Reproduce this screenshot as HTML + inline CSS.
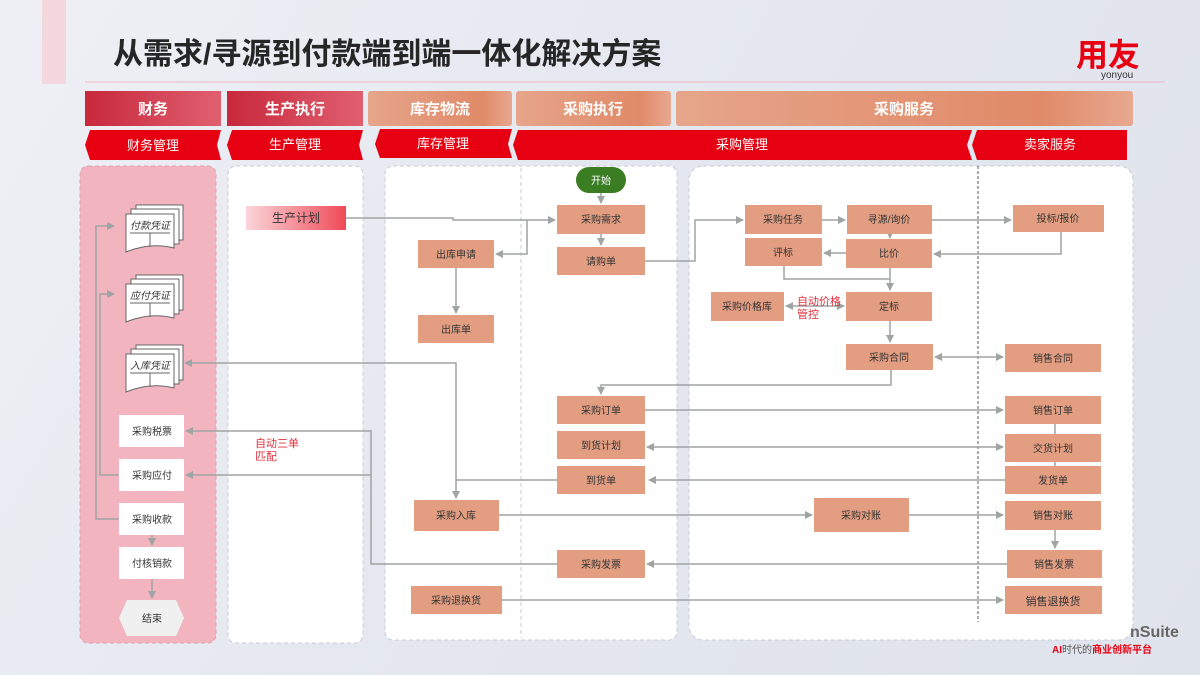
<!DOCTYPE html>
<html><head><meta charset="utf-8"><style>
body{margin:0;width:1200px;height:675px;overflow:hidden;background:linear-gradient(120deg,#eef0f5 0%,#e4e7ef 50%,#dfe3ec 100%);font-family:"Liberation Sans","Noto Sans CJK SC",sans-serif;}
svg{position:absolute;left:0;top:0}
text{font-family:"Liberation Sans","Noto Sans CJK SC",sans-serif}
</style></head><body>
<svg width="1200" height="675" viewBox="0 0 1200 675">
<defs>
<marker id="a" markerWidth="8" markerHeight="8" refX="7" refY="4" orient="auto" markerUnits="userSpaceOnUse"><path d="M0,0 L8,4 L0,8z" fill="#a0a4a4"/></marker>
<marker id="s" markerWidth="8" markerHeight="8" refX="1" refY="4" orient="auto" markerUnits="userSpaceOnUse"><path d="M8,0 L0,4 L8,8z" fill="#a0a4a4"/></marker>
<linearGradient id="rd" x1="0" x2="1"><stop offset="0" stop-color="#c8283c"/><stop offset="1" stop-color="#e06070"/></linearGradient>
<linearGradient id="or" x1="0" x2="1"><stop offset="0" stop-color="#e6a58a"/><stop offset="0.8" stop-color="#e08a68"/><stop offset="1" stop-color="#e8a890"/></linearGradient>
<linearGradient id="pp" x1="0" x2="1"><stop offset="0" stop-color="#fbd6da"/><stop offset="1" stop-color="#ef4a58"/></linearGradient>
</defs>
<rect x="42" y="0" width="24" height="84" fill="#f3d9de"/>
<text x="113" y="64" font-size="30" font-weight="bold" fill="#262626">从需求/寻源到付款端到端一体化解决方案</text>
<line x1="85" y1="82" x2="1165" y2="82" stroke="#efb8c0" stroke-width="1"/>
<text x="1076" y="66" font-size="32" font-weight="bold" fill="#e60012">用友</text>
<text x="1101" y="78" font-size="10" fill="#333">yonyou</text>

<rect x="85" y="91" width="136" height="35" fill="url(#rd)"/>
<rect x="227" y="91" width="136" height="35" fill="url(#rd)"/>
<rect x="368" y="91" width="144" height="35" rx="3" fill="url(#or)"/>
<rect x="516" y="91" width="155" height="35" rx="3" fill="url(#or)"/>
<rect x="676" y="91" width="457" height="35" rx="3" fill="url(#or)"/>
<g font-size="15" font-weight="bold" fill="#fff" text-anchor="middle">
<text x="153" y="114">财务</text><text x="295" y="114">生产执行</text><text x="440" y="114">库存物流</text><text x="593" y="114">采购执行</text><text x="904" y="114">采购服务</text></g>
<g fill="#e60012">
<path d="M90,130 H221 L217,145 L221,160 H90 L85,145z"/>
<path d="M232,130 H363 L359,145 L363,160 H232 L227,145z"/>
<path d="M380,129 H512 L508,144 L512,158 H380 L375,144z"/>
<path d="M518,130 H972 L967,145 L972,160 H518 L513,145z"/>
<path d="M977,130 H1127 V160 H977 L972,145z"/>
</g>
<g font-size="13" fill="#fff" text-anchor="middle">
<text x="153" y="150">财务管理</text><text x="295" y="149">生产管理</text><text x="443" y="148">库存管理</text><text x="742" y="149">采购管理</text><text x="1050" y="149">卖家服务</text></g>

<rect x="80" y="166" width="136" height="477" rx="8" fill="#f2b5bf" stroke="#e8a0ac" stroke-dasharray="4 3"/>
<rect x="228" y="166" width="135" height="477" rx="8" fill="#fff" stroke="#c8ccd4" stroke-dasharray="4 3"/>
<rect x="385" y="166" width="292" height="474" rx="8" fill="#fff" stroke="#c8ccd4" stroke-dasharray="4 3"/>
<line x1="521" y1="168" x2="521" y2="638" stroke="#c8ccd4" stroke-dasharray="4 3"/>
<rect x="689" y="166" width="444" height="474" rx="14" fill="#fff" stroke="#c8ccd4" stroke-dasharray="4 3"/>
<line x1="978" y1="166" x2="978" y2="622" stroke="#333" stroke-dasharray="3 2" stroke-width="0.8"/>

<g stroke="#a0a4a4" stroke-width="1.5" fill="none">
<path d="M346,218 H453 V220 H555" marker-end="url(#a)"/>
<path d="M527,220 V254 H496" marker-end="url(#a)"/>
<path d="M601,193 V203" marker-end="url(#a)"/>
<path d="M601,234 V245" marker-end="url(#a)"/>
<path d="M456,268 V313" marker-end="url(#a)"/>
<path d="M645,261 H695 V220 H743" marker-end="url(#a)"/>
<path d="M822,220 H845" marker-end="url(#a)"/>
<path d="M932,220 H1011" marker-end="url(#a)"/>
<path d="M890,234 V238" marker-end="url(#a)"/>
<path d="M1061,232 V254 H934" marker-end="url(#a)"/>
<path d="M846,253 H824" marker-end="url(#a)"/>
<path d="M784,266 V279 H890"/>
<path d="M890,268 V290" marker-end="url(#a)"/>
<path d="M786,306 H844" marker-start="url(#s)" marker-end="url(#a)"/>
<path d="M890,321 V342" marker-end="url(#a)"/>
<path d="M935,357 H1003" marker-start="url(#s)" marker-end="url(#a)"/>
<path d="M891,370 V385 H601 V394" marker-end="url(#a)"/>
<path d="M645,410 H1003" marker-end="url(#a)"/>
<path d="M647,447 H1003" marker-start="url(#s)" marker-end="url(#a)"/>
<path d="M1005,480 H649" marker-end="url(#a)"/>
<path d="M1055,424 V434"/>
<path d="M1055,462 V466"/>
<path d="M557,480 H456"/>
<path d="M185,363 H456 V498" marker-start="url(#s)" marker-end="url(#a)"/>
<path d="M499,515 H812" marker-end="url(#a)"/>
<path d="M909,515 H1003" marker-end="url(#a)"/>
<path d="M1055,530 V548" marker-end="url(#a)"/>
<path d="M1007,564 H647" marker-end="url(#a)"/>
<path d="M557,564 H371 V431 H186" marker-end="url(#a)"/>
<path d="M371,475 H186" marker-end="url(#a)"/>
<path d="M502,600 H1003" marker-end="url(#a)"/>
<path d="M119,519 H96 V226 H114" marker-end="url(#a)"/>
<path d="M119,475 H100 V294 H114" marker-end="url(#a)"/>
<path d="M152,535 V545" marker-end="url(#a)"/>
<path d="M152,579 V598" marker-end="url(#a)"/>
</g>

<rect x="576" y="167" width="50" height="26" rx="13" fill="#3a7d22"/>
<text x="601" y="184" font-size="10" fill="#fff" text-anchor="middle">开始</text>
<rect x="246" y="206" width="100" height="24" fill="url(#pp)"/>
<text x="296" y="222" font-size="12" fill="#333" text-anchor="middle">生产计划</text>
<g fill="#e39e82">
<rect x="557" y="205" width="88" height="29"/><rect x="557" y="247" width="88" height="28"/>
<rect x="418" y="240" width="76" height="28"/><rect x="418" y="315" width="76" height="28"/>
<rect x="745" y="205" width="77" height="29"/><rect x="847" y="205" width="85" height="29"/>
<rect x="1013" y="205" width="91" height="27"/><rect x="745" y="238" width="77" height="28"/>
<rect x="846" y="239" width="86" height="29"/><rect x="711" y="292" width="73" height="29"/>
<rect x="846" y="292" width="86" height="29"/><rect x="846" y="344" width="87" height="26"/>
<rect x="1005" y="344" width="96" height="28"/>
<rect x="557" y="396" width="88" height="28"/><rect x="557" y="431" width="88" height="28"/><rect x="557" y="466" width="88" height="28"/>
<rect x="1005" y="396" width="96" height="28"/><rect x="1005" y="434" width="96" height="28"/><rect x="1005" y="466" width="96" height="28"/>
<rect x="414" y="500" width="85" height="31"/><rect x="814" y="498" width="95" height="34"/><rect x="1005" y="501" width="96" height="29"/>
<rect x="557" y="550" width="88" height="28"/><rect x="1007" y="550" width="95" height="28"/>
<rect x="411" y="586" width="91" height="28"/><rect x="1005" y="586" width="97" height="28"/>
</g>
<g font-size="10" fill="#333" text-anchor="middle">
<text x="601" y="223">采购需求</text><text x="601" y="265">请购单</text>
<text x="456" y="258">出库申请</text><text x="456" y="333">出库单</text>
<text x="783" y="223">采购任务</text><text x="889" y="223">寻源/询价</text><text x="1058" y="222">投标/报价</text>
<text x="783" y="256">评标</text><text x="889" y="257">比价</text><text x="747" y="310">采购价格库</text>
<text x="889" y="310">定标</text><text x="889" y="361">采购合同</text><text x="1053" y="362">销售合同</text>
<text x="601" y="414">采购订单</text><text x="601" y="449">到货计划</text><text x="601" y="484">到货单</text>
<text x="1053" y="414">销售订单</text><text x="1053" y="452">交货计划</text><text x="1053" y="484">发货单</text>
<text x="456" y="519">采购入库</text><text x="861" y="519">采购对账</text><text x="1053" y="519">销售对账</text>
<text x="601" y="568">采购发票</text><text x="1054" y="568">销售发票</text>
<text x="456" y="604">采购退换货</text><text x="1053" y="605" font-size="11">销售退换货</text>
</g>
<g font-size="11" fill="#e0303c">
<text x="797" y="305">自动价格</text><text x="797" y="318">管控</text>
<text x="255" y="447">自动三单</text><text x="255" y="460">匹配</text>
</g>

<g stroke="#666" stroke-width="1" fill="#fff">
<g><path d="M136,205 H183 V240 H136z"/><path d="M131,209 H179 V244 H131z"/><path d="M126,214 H174 V248 Q150,242 126,252z"/>
<line x1="130" y1="233" x2="170" y2="233"/><line x1="150" y1="233" x2="150" y2="247"/></g>
<g transform="translate(0,70)"><path d="M136,205 H183 V240 H136z"/><path d="M131,209 H179 V244 H131z"/><path d="M126,214 H174 V248 Q150,242 126,252z"/>
<line x1="130" y1="233" x2="170" y2="233"/><line x1="150" y1="233" x2="150" y2="247"/></g>
<g transform="translate(0,140)"><path d="M136,205 H183 V240 H136z"/><path d="M131,209 H179 V244 H131z"/><path d="M126,214 H174 V248 Q150,242 126,252z"/>
<line x1="130" y1="233" x2="170" y2="233"/><line x1="150" y1="233" x2="150" y2="247"/></g>
</g>
<g font-size="10" fill="#333" font-style="italic" text-anchor="middle">
<text x="150" y="229">付款凭证</text><text x="150" y="299">应付凭证</text><text x="150" y="369">入库凭证</text></g>
<g fill="#fff"><rect x="119" y="415" width="65" height="32"/><rect x="119" y="459" width="65" height="32"/><rect x="119" y="503" width="65" height="32"/><rect x="119" y="547" width="65" height="32"/></g>
<path d="M127,600 H176 L184,618 L176,636 H127 L119,618z" fill="#f0f0f0"/>
<g font-size="10" fill="#333" text-anchor="middle">
<text x="152" y="435">采购税票</text><text x="152" y="479">采购应付</text><text x="152" y="523">采购收款</text><text x="152" y="567">付核销款</text><text x="152" y="622">结束</text></g>

<text x="1130" y="637" font-size="16" font-weight="bold" fill="#666">nSuite</text>
<text x="1052" y="653" font-size="10" font-weight="bold" fill="#e60012">AI<tspan fill="#555" font-weight="normal">时代的</tspan>商业创新平台</text>
</svg>
</body></html>
